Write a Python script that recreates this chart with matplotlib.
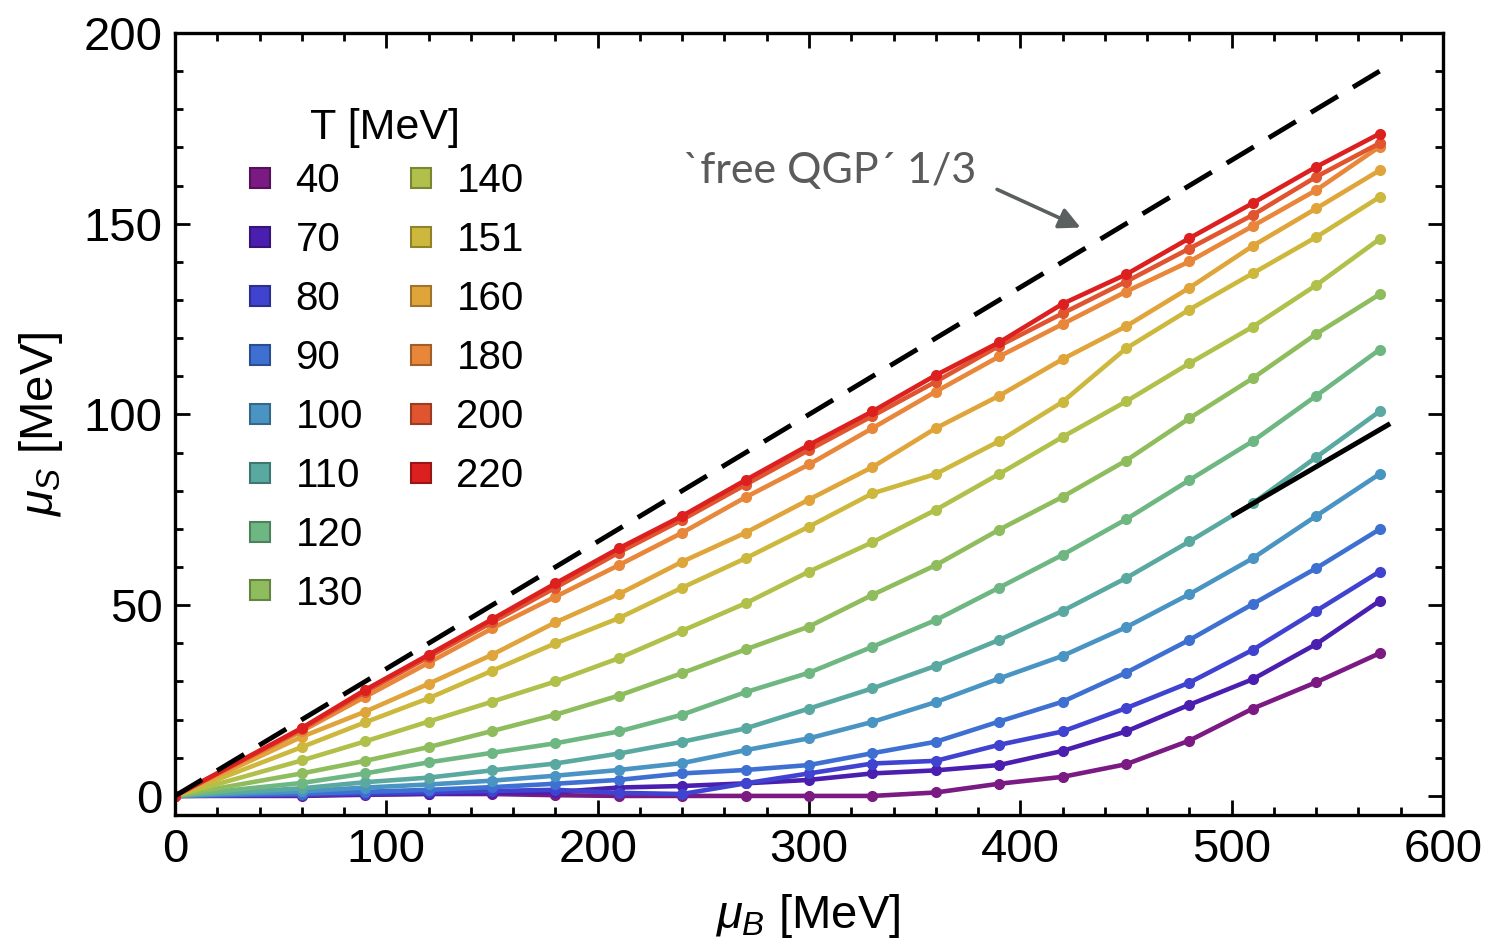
import matplotlib
matplotlib.use("Agg")
import matplotlib.pyplot as plt
from matplotlib.colors import to_rgb
from matplotlib.lines import Line2D
from matplotlib.ticker import MultipleLocator

plt.rcParams["font.family"] = ["Liberation Sans", "DejaVu Sans"]
plt.rcParams["mathtext.fontset"] = "custom"
plt.rcParams["mathtext.rm"] = "Liberation Sans"
plt.rcParams["mathtext.it"] = "Liberation Sans:italic"

# mu_B grid [MeV]
mu_b = [0, 60, 90, 120, 150, 180, 210, 240, 270, 300, 330, 360, 390, 420, 450, 480, 510, 540, 570]

# mu_S [MeV] for each temperature
mu_s_T40 = [0, 0.0, 0.3, 0.5, 0.5, 0.2, 0.0, 0.0, 0.0, 0.0, 0.0, 0.9, 3.2, 5.0, 8.3, 14.5, 22.9, 29.8, 37.4]
mu_s_T70 = [0, 0.2, 0.4, 0.6, 0.8, 1.0, 2.2, 2.6, 3.3, 4.2, 5.9, 6.7, 8.1, 11.8, 16.9, 23.9, 30.6, 39.8, 51.1]
mu_s_T80 = [0, 0.3, 0.6, 0.9, 1.3, 1.6, 0.8, 0.5, 3.3, 5.9, 8.5, 9.2, 13.4, 16.9, 23.0, 29.7, 38.3, 48.5, 58.8]
mu_s_T90 = [0, 0.6, 1.1, 1.6, 2.3, 3.2, 4.2, 5.9, 6.8, 8.1, 11.2, 14.2, 19.5, 24.7, 32.3, 40.9, 50.3, 59.7, 69.9]
mu_s_T100 = [0, 1.2, 2.2, 3.0, 4.0, 5.3, 6.8, 8.6, 12.0, 15.1, 19.4, 24.6, 30.8, 36.7, 44.2, 52.9, 62.3, 73.4, 84.4]
mu_s_T110 = [0, 2.0, 3.6, 4.8, 6.7, 8.5, 11.1, 14.2, 17.7, 22.9, 28.2, 34.1, 40.9, 48.5, 57.1, 66.7, 76.7, 88.8, 100.8]
mu_s_T120 = [0, 3.4, 5.9, 8.8, 11.3, 13.8, 16.9, 21.3, 27.2, 32.3, 39.1, 46.1, 54.6, 63.2, 72.5, 82.8, 93.0, 104.9, 117.0]
mu_s_T130 = [0, 5.9, 9.2, 12.8, 17.0, 21.3, 26.3, 32.2, 38.4, 44.4, 52.7, 60.5, 69.8, 78.4, 87.9, 99.0, 109.5, 121.1, 131.5]
mu_s_T140 = [0, 9.3, 14.3, 19.5, 24.7, 30.0, 36.1, 43.3, 50.5, 58.8, 66.5, 75.0, 84.4, 94.1, 103.4, 113.4, 123.0, 133.9, 146.0]
mu_s_T151 = [0, 12.8, 19.3, 25.6, 32.8, 40.0, 46.6, 54.6, 62.3, 70.6, 79.3, 84.4, 93.0, 103.3, 117.3, 127.5, 137.0, 146.5, 157.0]
mu_s_T160 = [0, 15.5, 22.1, 29.4, 37.0, 45.5, 52.9, 61.4, 69.0, 77.7, 86.2, 96.4, 104.9, 114.5, 123.1, 133.2, 144.2, 154.0, 164.0]
mu_s_T180 = [0, 17.0, 26.0, 34.9, 43.9, 52.2, 60.5, 69.0, 78.3, 86.9, 96.4, 106.0, 115.2, 123.7, 132.2, 140.1, 149.4, 158.8, 170.2]
mu_s_T200 = [0, 17.5, 27.3, 36.4, 45.5, 54.6, 63.8, 72.4, 81.6, 90.7, 99.6, 108.6, 118.0, 126.5, 134.8, 143.5, 152.3, 162.3, 171.1]
mu_s_T220 = [0, 17.8, 27.8, 37.0, 46.3, 55.7, 64.9, 73.4, 82.8, 92.0, 100.8, 110.3, 118.9, 129.0, 136.7, 146.2, 155.4, 164.9, 173.6]

temperatures = ["40", "70", "80", "90", "100", "110", "120", "130", "140", "151", "160", "180", "200", "220"]
curves = [mu_s_T40, mu_s_T70, mu_s_T80, mu_s_T90, mu_s_T100, mu_s_T110, mu_s_T120,
          mu_s_T130, mu_s_T140, mu_s_T151, mu_s_T160, mu_s_T180, mu_s_T200, mu_s_T220]
colors = ["#7a1a82", "#4a1fb0", "#4042d0", "#3e70d2", "#4a94c3", "#5aa9a1", "#6eb782",
          "#8fbd5d", "#b0c04a", "#cdb83e", "#e0a53a", "#e8863a", "#e05530", "#dc2020"]

# 'free QGP' limit mu_S = mu_B / 3, and the short slope-1/3 guide segment
qgp_mu_b = [0, 570]
qgp_mu_s = [0, 190]
guide_mu_b = [500, 575]
guide_mu_s = [73.4, 97.6]

fig = plt.figure(figsize=(14.88, 9.44), dpi=100)
ax = fig.add_axes([175 / 1488, 1 - 815 / 944, 1268 / 1488, 782 / 944])

for ys, c in zip(curves, colors):
    ax.plot(mu_b, ys, color=c, lw=3.3, marker="o", ms=7, solid_joinstyle="round")

ax.plot(qgp_mu_b, qgp_mu_s, color="black", lw=3.5, linestyle=(0, (6.5, 3.6)))
ax.plot(guide_mu_b, guide_mu_s, color="black", lw=3.6, solid_capstyle="butt")

ax.text(240.4, 160.6, "`free QGP´ 1/3", color="#5b5b5b", fontsize=31,
        family=["Lato", "DejaVu Sans"], va="baseline", ha="left")
ax.annotate("", xy=(428.5, 149.0), xytext=(389, 159),
            arrowprops=dict(arrowstyle="-|>", color="#5a5f5f", lw=2.6,
                            mutation_scale=32, shrinkA=0, shrinkB=0))

ax.set_xlim(0, 600)
ax.set_ylim(-5, 200)
ax.xaxis.set_major_locator(MultipleLocator(100))
ax.xaxis.set_minor_locator(MultipleLocator(20))
ax.yaxis.set_major_locator(MultipleLocator(50))
ax.yaxis.set_minor_locator(MultipleLocator(10))
ax.tick_params(which="both", direction="in", top=True, right=True, width=2.0)
ax.tick_params(which="major", length=11, labelsize=34, pad=9)
ax.tick_params(which="minor", length=6)
for s in ax.spines.values():
    s.set_linewidth(2.4)

ax.set_xlabel(r"$\mu_B$ [MeV]", fontsize=34)
ax.set_ylabel(r"$\mu_S$ [MeV]", fontsize=34)
ax.xaxis.set_label_coords(0.499, -0.098)
ax.yaxis.set_label_coords(-0.087, 0.50)

# legend: 8 entries in the first column, 6 in the second
handles, labels = [], []
for t, c in zip(temperatures, colors):
    edge = tuple(v * 0.7 for v in to_rgb(c))
    handles.append(Line2D([], [], ls="none", marker="s", ms=14,
                          markerfacecolor=c, markeredgecolor=edge, markeredgewidth=1.5))
    labels.append(t)
handles = handles + [Line2D([], [], ls="none")] * 2
labels = labels + ["", ""]
ax.legend(handles, labels, ncol=2, loc="upper left",
          bbox_to_anchor=(0.034, 0.866), frameon=False, fontsize=29,
          handlelength=0.9, handletextpad=0.42,
          columnspacing=1.0, labelspacing=0.52, borderpad=0.1)
ax.text(0.1656, 0.8785, "T [MeV]", transform=ax.transAxes, fontsize=31,
        ha="center", va="center")

fig.savefig("out.png", dpi=100)
